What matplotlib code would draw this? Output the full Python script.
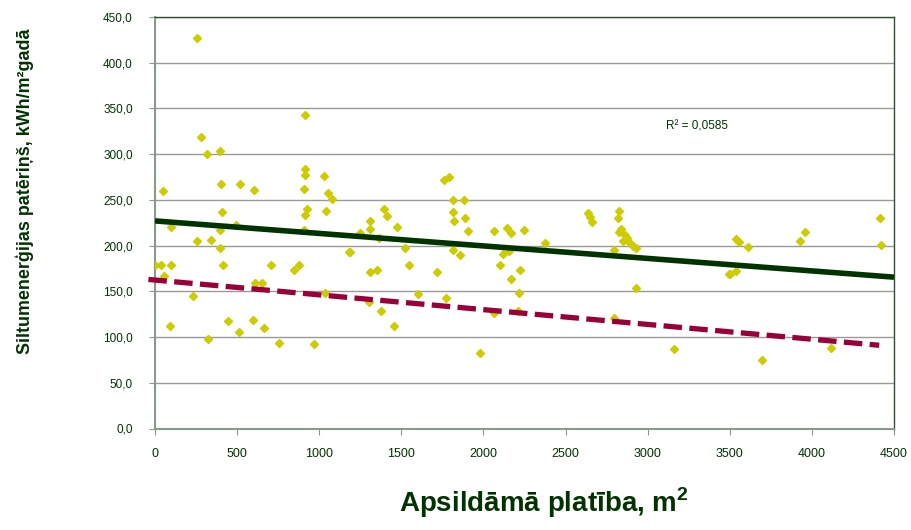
import matplotlib
matplotlib.use("Agg")
import matplotlib.pyplot as plt
from matplotlib.ticker import FuncFormatter, MultipleLocator

plt.rcParams['font.family'] = ['Liberation Sans', 'DejaVu Sans']
plt.rcParams['mathtext.fontset'] = 'custom'
plt.rcParams['mathtext.rm'] = 'Liberation Sans'
plt.rcParams['mathtext.bf'] = 'Liberation Sans:bold'

# platiba (m2) un siltumenergijas pateris (kWh/m2 gada)
area = [254, 278, 319, 394, 49, 402, 520, 605, 915, 915, 911, 1031, 909, 1051, 1080,
        408, 924, 913, 1043, 96, 495, 398, 907, 254, 339, 398, 1181, 2, 35, 99,
        412, 704, 877, 845, 53, 611, 650, 1035, 233, 89, 443, 595, 513, 662, 325,
        757, 966,
        1758, 1790, 1816, 1881, 1392, 1413, 1309, 1311, 1816, 1822, 1888, 1904, 1475, 1250,
        1364, 1189, 1522, 1547, 1307, 1350, 1717, 1814, 1859, 2062, 2143, 2170, 2249, 2155,
        2119, 2101, 2223, 2170, 2216, 1602, 1772, 1305, 1374, 1453, 2064, 2212, 1982,
        2377, 2635, 2649, 2661, 2827, 2817, 2836, 2827, 2862, 2872, 2848, 2892, 2911, 2929,
        2797, 2927, 2797, 3160, 3493,
        3499, 3540, 3536, 3556, 3613, 3925, 3956, 4414, 4419, 3696, 4118]
energy = [426.5, 318.8, 300.5, 304.0, 259.7, 267.7, 267.4, 260.8, 342.5, 283.8, 277.2, 276.5, 261.5, 257.0, 251.0,
          236.3, 240.3, 233.4, 237.4, 220.3, 223.0, 217.0, 217.3, 205.0, 206.4, 197.3, 193.0, 178.3, 178.3, 178.3,
          178.3, 178.7, 178.7, 172.8, 167.0, 159.6, 159.6, 148.6, 145.0, 112.2, 117.3, 119.0, 106.0, 110.0, 98.0,
          93.3, 92.9,
          271.7, 275.0, 249.8, 250.2, 239.6, 232.7, 226.4, 218.4, 237.0, 227.2, 229.7, 215.5, 220.3, 213.7,
          207.8, 193.0, 197.6, 178.3, 170.6, 172.8, 170.6, 194.7, 189.6, 215.9, 219.5, 213.7, 217.3, 194.4,
          190.7, 178.3, 172.8, 163.7, 148.7, 147.3, 143.2, 138.8, 129.0, 112.6, 126.1, 129.0, 82.3,
          202.7, 235.6, 231.6, 225.8, 237.4, 229.7, 218.1, 215.1, 211.9, 208.3, 205.3, 202.8, 199.1, 196.9,
          195.5, 153.8, 120.7, 87.4, 169.5,
          169.5, 172.4, 207.5, 203.9, 198.0, 205.0, 214.8, 229.7, 200.7, 75.3, 87.8]

# trenda liniju galapunkti
trend_x = [0, 4500]
trend_solid = [227.0, 165.5]
norm_x = [-40, 4410]
norm_dashed = [163.0, 91.0]
r2_text = "R² = 0,0585"

dark_green = '#003300'

fig = plt.figure(figsize=(9.11, 5.30), dpi=100)
ax = fig.add_axes([155/911, 1 - 428.5/530, 739/911, 411.5/530])

ax.plot(area, energy, linestyle='none', marker='D', ms=4.4,
        color='#CCCC00', mec='#CCCC00', zorder=3)
ax.plot(trend_x, trend_solid, color=dark_green, lw=4.0,
        solid_capstyle='butt', zorder=4, clip_on=True)
ax.plot(norm_x, norm_dashed, color='#99003A', lw=3.8, dashes=(3.5, 1.4),
        dash_capstyle='butt', zorder=4, clip_on=False)

ax.text(3112, 330, r2_text, color=dark_green, fontsize=8.5, ha='left', va='center')

ax.set_xlim(0, 4500)
ax.set_ylim(0, 450)
ax.xaxis.set_major_locator(MultipleLocator(500))
ax.yaxis.set_major_locator(MultipleLocator(50))
ax.yaxis.set_major_formatter(FuncFormatter(lambda v, p: f"{v:.1f}".replace('.', ',')))

ax.grid(axis='y', color='#999999', lw=1.0)
ax.set_axisbelow(True)
ax.tick_params(axis='both', direction='out', length=4, color='#8a9a8a',
               labelcolor=dark_green, labelsize=8.5)
ax.tick_params(axis='y', pad=12)
ax.tick_params(axis='x', pad=10, labelsize=9)

for s in ['left', 'bottom']:
    ax.spines[s].set_color('#8a9a8a')
    ax.spines[s].set_linewidth(1.5)
for s in ['top', 'right']:
    ax.spines[s].set_color('#2f4f2f')
    ax.spines[s].set_linewidth(1.0)

fig.text(25/911, 1 - 191/530, "Siltumenerģijas patēriņš, kWh/m²gadā", rotation=90,
         ha='center', va='center', fontsize=12.9, fontweight='bold', color=dark_green)
fig.text(544/911, 1 - 512/530, r"Apsildāmā platība, m$^\mathbf{2}$",
         ha='center', va='baseline', fontsize=20, fontweight='bold', color=dark_green)

fig.savefig("out.png", dpi=100)
